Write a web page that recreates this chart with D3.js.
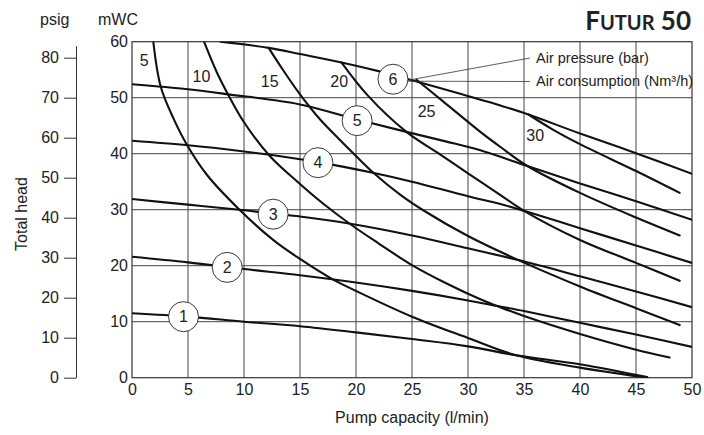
<!DOCTYPE html>
<html lang="en">
<head>
<meta charset="UTF-8">
<title>Futur 50 pump curves</title>
<script src="https://cdn.jsdelivr.net/npm/d3@7/dist/d3.min.js"></script>
<style>
  html, body { margin: 0; padding: 0; background: #fff; }
  svg text { font-family: "Liberation Sans", Arial, sans-serif; fill: #222; }
</style>
</head>
<body>
<svg id="chart" width="704" height="435"></svg>
<script>
// ---- data ----
var xTicks = [0, 5, 10, 15, 20, 25, 30, 35, 40, 45, 50];
var mwcTicks = [0, 10, 20, 30, 40, 50, 60];
var psigTicks = [0, 10, 20, 30, 40, 50, 60, 70, 80];
var mwcPerPsig = 0.7143;

// air pressure curves (bar): [l/min, mWC]
var pressure1 = [[0,11.5],[5,10.9],[10,10.0],[15,9.2],[20,8.1],[25,6.9],[30,5.6],[34.3,4.0],[40,2.4],[46,0.1]];
var pressure2 = [[0,21.6],[5,20.6],[10,19.4],[15,18.3],[20,17.0],[25,15.5],[30,13.8],[32.6,12.8],[35,11.9],[40,9.8],[45,7.7],[50,5.5]];
var pressure3 = [[0,31.9],[5,30.9],[9.6,30.0],[12.6,29.3],[15,28.8],[19.5,27.5],[25,25.4],[30,23.1],[34.5,21.0],[40,18.1],[45,15.4],[50,12.6]];
var pressure4 = [[0,42.3],[5,41.5],[10,40.4],[12.3,39.8],[16.6,38.5],[21.5,36.6],[25,35.0],[30,32.4],[32.9,31.0],[35,29.8],[40,26.7],[45,23.6],[50,20.5]];
var pressure5 = [[0,52.4],[5,51.5],[8.6,50.6],[15,48.8],[20.1,46.1],[24.5,43.9],[28,42.2],[31.1,40.6],[35.3,37.8],[40,34.7],[45,31.5],[50,28.2]];
var pressure6 = [[7.9,60],[12.2,58.9],[15,57.8],[18.7,56.3],[22.1,54.7],[25,53.1],[29.3,50.7],[32.9,48.6],[35.4,47.0],[40,43.6],[45,40.1],[50,36.4]];

// air consumption curves (Nm3/h)
var consumption5  = [[1.9,60],[2.56,52],[3.7,46.3],[4.9,41.6],[6.7,36.2],[9.6,30],[12.6,24.6],[15,21.2],[17.8,17.7],[20,15.5],[25,10.9],[30,7.1],[34.3,4.0],[40,1.8],[46,0]];
var consumption10 = [[6.43,60],[7.56,54.6],[8.6,50.5],[9.94,45.8],[12.3,39.6],[15,34.6],[17,31.2],[19.5,27.4],[22,24.0],[25,20.1],[28,16.9],[31.1,14.0],[32.6,12.8],[35,11.0],[40,7.8],[45,5.0],[48,3.6]];
var consumption15 = [[12.2,58.9],[13.5,54.9],[15,50.6],[16.8,46.1],[18.5,42.6],[20,39.6],[21.5,36.7],[24,32.6],[26,29.9],[30,25.3],[34.5,21.0],[40,16.3],[45,12.4],[48.9,9.4]];
var consumption20 = [[18.7,56.3],[21,50.5],[24.5,43.9],[27.5,39.9],[30,36.5],[32.9,32.6],[35,29.8],[40,24.6],[45,20.5],[48.9,17.3]];
var consumption25 = [[25.4,53.2],[27.8,49.3],[31.1,43.9],[32.9,41.2],[35.3,37.8],[40,33.0],[45,28.6],[48.9,25.4]];
var consumption30 = [[35.4,47.0],[37.5,44.4],[40,41.7],[45,36.9],[48.9,33.0]];

var pressureNames = ["1", "2", "3", "4", "5", "6"];
var pressureLabelAt = [[4.6,10.9],[8.5,19.7],[12.6,29.2],[16.6,38.4],[20.1,45.9],[23.3,53.3]];
var consumptionNames = ["5", "10", "15", "20", "25", "30"];
var consumptionLabelAt = [[1.1,56.7],[6.2,53.9],[12.3,52.9],[18.5,52.9],[26.3,47.5],[36,43.3]];

var pressureCurves = [pressure1, pressure2, pressure3, pressure4, pressure5, pressure6];
var consumptionCurves = [consumption5, consumption10, consumption15, consumption20, consumption25, consumption30];

// ---- drawing ----
var svg = d3.select("#chart");

var x = d3.scaleLinear().domain([0, 50]).range([132, 692]);
var y = d3.scaleLinear().domain([0, 60]).range([377.7, 41.7]);
var psig = d3.scaleLinear().domain([0, 83]).range([y(0), y(83 * mwcPerPsig)]);

svg.append("clipPath").attr("id", "plot")
  .append("rect")
  .attr("x", x(0)).attr("y", y(60))
  .attr("width", x(50) - x(0)).attr("height", y(0) - y(60));

// grid
var grid = svg.append("g").attr("stroke", "#444").attr("stroke-width", 1);
grid.selectAll(".vg").data(xTicks.slice(1, -1)).enter().append("line")
  .attr("x1", d => x(d)).attr("x2", d => x(d))
  .attr("y1", y(0)).attr("y2", y(60));
grid.selectAll(".hg").data(mwcTicks.slice(1, -1)).enter().append("line")
  .attr("x1", x(0)).attr("x2", x(50))
  .attr("y1", d => y(d)).attr("y2", d => y(d));
svg.append("rect")
  .attr("x", x(0)).attr("y", y(60))
  .attr("width", x(50) - x(0)).attr("height", y(0) - y(60))
  .attr("fill", "none").attr("stroke", "#333").attr("stroke-width", 1.2);

// x axis labels
var xAxis = svg.append("g")
  .attr("transform", "translate(0," + y(0) + ")")
  .call(d3.axisBottom(x).tickValues(xTicks).tickSize(0).tickPadding(6));
xAxis.select(".domain").remove();

// mWC labels
var yAxis = svg.append("g")
  .attr("transform", "translate(" + x(0) + ",0)")
  .call(d3.axisLeft(y).tickValues(mwcTicks).tickSize(0).tickPadding(4));
yAxis.select(".domain").remove();

// psig axis
var pAxis = svg.append("g")
  .attr("transform", "translate(76,0)")
  .call(d3.axisLeft(psig).tickValues(psigTicks).tickSize(12).tickSizeOuter(0).tickPadding(5));
pAxis.selectAll("path, line").attr("stroke", "#333");

svg.selectAll(".tick text")
  .style("font-family", "'Liberation Sans', Arial, sans-serif")
  .style("font-size", "16px").attr("fill", "#222");

// curves
var line = d3.line().x(d => x(d[0])).y(d => y(d[1])).curve(d3.curveCatmullRom.alpha(0.5));
var curves = svg.append("g").attr("clip-path", "url(#plot)")
  .attr("fill", "none").attr("stroke", "#111").attr("stroke-width", 2.1)
  .attr("stroke-linejoin", "round").attr("stroke-linecap", "round");
curves.selectAll(".p").data(pressureCurves).enter().append("path").attr("d", line);
curves.selectAll(".c").data(consumptionCurves).enter().append("path").attr("d", line);

// consumption labels
svg.selectAll(".clab").data(consumptionNames).enter().append("text")
  .attr("x", (d, i) => x(consumptionLabelAt[i][0]))
  .attr("y", (d, i) => y(consumptionLabelAt[i][1]))
  .attr("text-anchor", "middle").attr("dy", "0.36em")
  .style("font-size", "16px")
  .text(d => d);

// leader lines to the legend text
var c6 = pressureLabelAt[5];
svg.append("line")
  .attr("x1", x(c6[0]) + 15).attr("y1", y(c6[1]) + 1)
  .attr("x2", 530).attr("y2", 58)
  .attr("stroke", "#333").attr("stroke-width", 0.8);
svg.append("line")
  .attr("x1", x(c6[0]) + 15).attr("y1", y(c6[1]) + 2)
  .attr("x2", 530).attr("y2", 81.5)
  .attr("stroke", "#333").attr("stroke-width", 0.8);

// pressure circles
var circ = svg.selectAll(".plab").data(pressureNames).enter().append("g")
  .attr("transform", (d, i) => "translate(" + x(pressureLabelAt[i][0]) + "," + y(pressureLabelAt[i][1]) + ")");
circ.append("circle").attr("r", 15).attr("fill", "#fff").attr("stroke", "#222").attr("stroke-width", 0.9);
circ.append("text").attr("text-anchor", "middle").attr("dy", "0.36em")
  .style("font-size", "16px").text(d => d);

// legend text
svg.append("text").attr("x", 536).attr("y", 63).style("font-size", "14.5px").text("Air pressure (bar)");
svg.append("text").attr("x", 536).attr("y", 86).style("font-size", "14.5px").text("Air consumption (Nm³/h)");

// axis titles
svg.append("text").attr("x", 40).attr("y", 25).style("font-size", "16px").text("psig");
svg.append("text").attr("x", 98).attr("y", 25).style("font-size", "16px").text("mWC");
svg.append("text").attr("transform", "translate(27,214) rotate(-90)")
  .attr("text-anchor", "middle").style("font-size", "16px").text("Total head");
svg.append("text").attr("x", (x(0) + x(50)) / 2).attr("y", 423)
  .attr("text-anchor", "middle").style("font-size", "16px").text("Pump capacity (l/min)");

// title in small caps
var title = svg.append("text").attr("x", 691).attr("y", 29.5).attr("text-anchor", "end")
  .style("font-family", "Lato, 'Open Sans', sans-serif").style("font-weight", "bold").attr("fill", "#111");
title.append("tspan").style("font-size", "26px").text("F");
title.append("tspan").style("font-size", "20px").text("UTUR");
title.append("tspan").style("font-size", "26px").text(" 50");
</script>
</body>
</html>
